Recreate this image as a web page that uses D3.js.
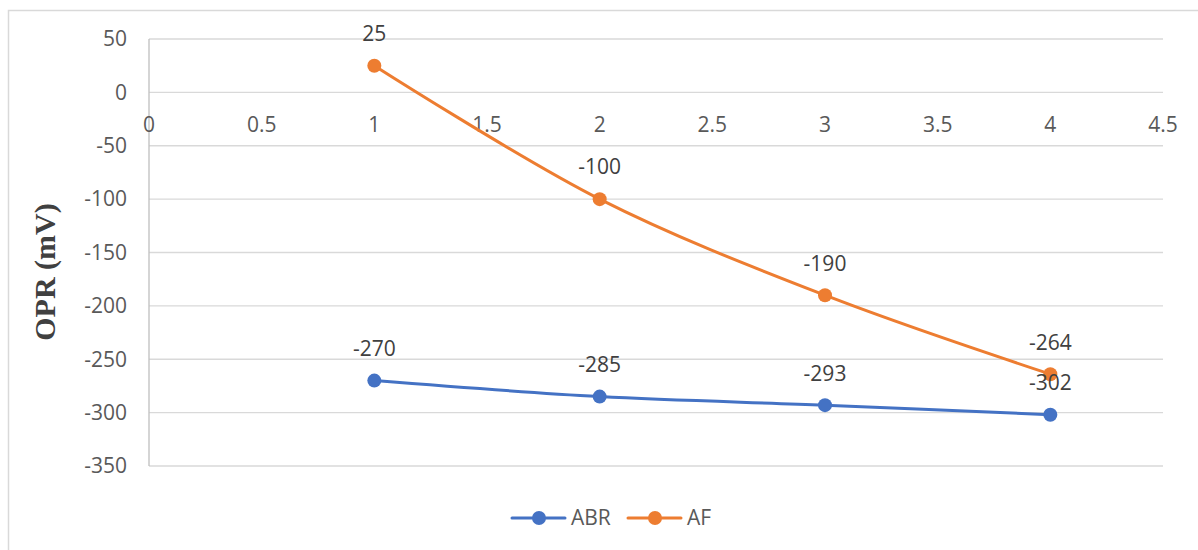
<!DOCTYPE html>
<html><head><meta charset="utf-8">
<script src="https://cdn.jsdelivr.net/npm/d3@7"></script>
<style>body{margin:0;background:#fff}svg{display:block}</style>
</head><body>
<svg id="c" width="1198" height="550"></svg>
<script>
const xValues = [1, 2, 3, 4];
const abrValues = [-270, -285, -293, -302];
const afValues = [25, -100, -190, -264];
const yTicks = [50, 0, -50, -100, -150, -200, -250, -300, -350];
const xTicks = [0, 0.5, 1, 1.5, 2, 2.5, 3, 3.5, 4, 4.5];
const seriesNames = ["ABR", "AF"];
const seriesColors = ["#4472C4", "#ED7D31"];

const svg = d3.select("#c");
svg.append("rect").attr("x", 8.5).attr("y", 10.5).attr("width", 1200).attr("height", 560)
  .attr("fill", "#fff").attr("stroke", "#d9d9d9").attr("stroke-width", 1.5);

const x = d3.scaleLinear().domain([0, 4.5]).range([149, 1163]);
const y = d3.scaleLinear().domain([-350, 50]).range([466, 39]);

const font = "'Open Sans', 'Liberation Sans', sans-serif";
const fs = 21;

// gridlines
svg.append("g").selectAll("line").data(yTicks).join("line")
  .attr("x1", x(0)).attr("x2", x(4.5)).attr("y1", d => y(d)).attr("y2", d => y(d))
  .attr("stroke", "#d9d9d9").attr("stroke-width", 1.3);
// y axis line
svg.append("line").attr("x1", x(0)).attr("x2", x(0)).attr("y1", y(50)).attr("y2", y(-350))
  .attr("stroke", "#bfbfbf").attr("stroke-width", 1.3);

// y tick labels
svg.append("g").selectAll("text").data(yTicks).join("text")
  .attr("x", 127).attr("y", d => y(d)).attr("dy", "0.35em").attr("text-anchor", "end")
  .attr("font-family", font).attr("font-size", fs).attr("fill", "#595959").text(d => d);
// x tick labels
svg.append("g").selectAll("text").data(xTicks).join("text")
  .attr("x", d => x(d)).attr("y", y(0) + 32).attr("dy", "0.35em").attr("text-anchor", "middle")
  .attr("font-family", font).attr("font-size", fs).attr("fill", "#595959").text(d => d);

// axis title
svg.append("text").attr("transform", `translate(55,272) rotate(-90)`)
  .attr("text-anchor", "middle").attr("font-family", "'Liberation Serif', 'Times New Roman', serif")
  .attr("font-weight", "bold").attr("font-size", 30).attr("fill", "#404040").text("OPR (mV)");

const series = [abrValues, afValues];
const line = d3.line().x(d => x(d[0])).y(d => y(d[1])).curve(d3.curveCatmullRom.alpha(0.5));
series.forEach((vals, i) => {
  const pts = xValues.map((xv, j) => [xv, vals[j]]);
  svg.append("path").datum(pts).attr("d", line).attr("fill", "none")
    .attr("stroke", seriesColors[i]).attr("stroke-width", 3).attr("stroke-linecap", "round");
  svg.append("g").selectAll("circle").data(pts).join("circle")
    .attr("cx", d => x(d[0])).attr("cy", d => y(d[1])).attr("r", 7).attr("fill", seriesColors[i]);
});
series.forEach((vals, i) => {
  svg.append("g").selectAll("text").data(xValues.map((xv, j) => [xv, vals[j]])).join("text")
    .attr("x", d => x(d[0])).attr("y", d => y(d[1]) - 32).attr("dy", "0.35em").attr("text-anchor", "middle")
    .attr("font-family", font).attr("font-size", fs).attr("fill", "#404040").text(d => d[1]);
});

// legend
const legX = [512, 628];
seriesNames.forEach((name, i) => {
  const g = svg.append("g").attr("transform", `translate(${legX[i]},518)`);
  g.append("line").attr("x1", 0).attr("x2", 53).attr("stroke", seriesColors[i]).attr("stroke-width", 3).attr("stroke-linecap", "round");
  g.append("circle").attr("cx", 27).attr("r", 7).attr("fill", seriesColors[i]);
  g.append("text").attr("x", 59).attr("dy", "0.35em").attr("font-family", font).attr("font-size", fs)
    .attr("fill", "#595959").text(name);
});
</script>
</body></html>
